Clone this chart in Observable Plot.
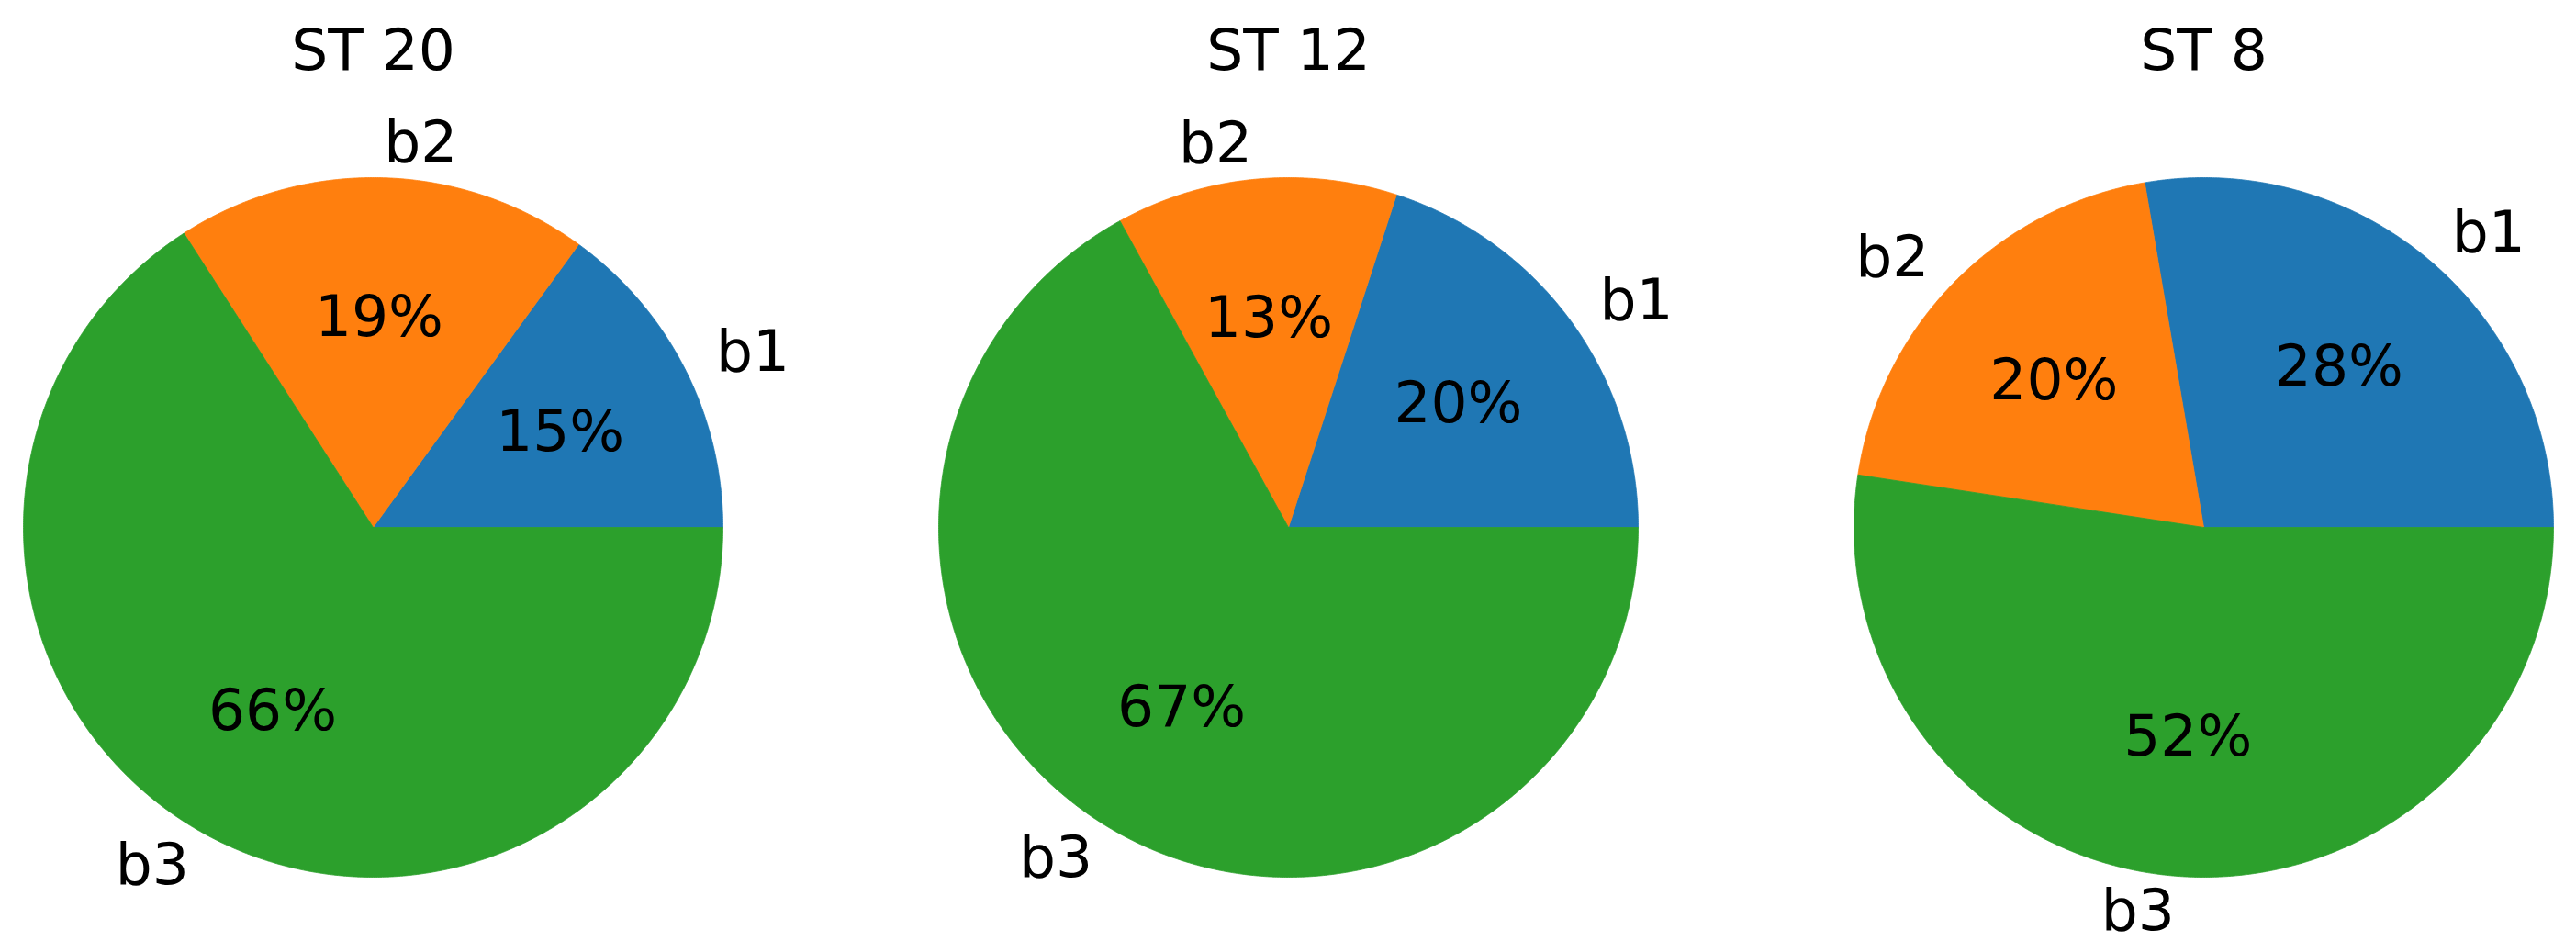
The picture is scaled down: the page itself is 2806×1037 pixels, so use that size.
<!DOCTYPE html>
<html>
<head>
<meta charset="utf-8">
<script src="https://cdn.jsdelivr.net/npm/d3@7"></script>
<script src="https://cdn.jsdelivr.net/npm/@observablehq/plot@0.6"></script>
<style>
  html, body { margin: 0; padding: 0; background: #fff; }
  svg { display: block; }
</style>
</head>
<body>
<div id="chart"></div>
<script>
// ---- data ----
const titles = ["ST 20", "ST 12", "ST 8"];
const labels = ["b1", "b2", "b3"];
const st20 = [15.0, 19.1, 65.9];
const st12 = [20.0, 13.0, 67.0];
const st8  = [27.7, 19.9, 52.4];
const colors = ["#1f77b4", "#ff7f0e", "#2ca02c"];

// ---- layout ----
const W = 2806, H = 1037;
const R = 381;          // pie radius in px (1 data unit)
const cx0 = 406;        // first pie centre px
const cy = 574;         // pie centre y px
const gap = 997;        // distance between pie centres px
const fontSize = 63;

const series = [st20, st12, st8];
const poly = [];
const outer = [];
const inner = [];
const heads = [];

series.forEach((vals, i) => {
  const cxu = i * gap / R;
  const tot = d3.sum(vals);
  heads.push({x: cxu, y: (cy - 55) / R, t: titles[i]});
  let a0 = 0;
  vals.forEach((v, j) => {
    const a1 = a0 + v / tot * 2 * Math.PI;
    const id = i + "-" + j;
    poly.push({id, cat: labels[j], x: cxu, y: 0});
    const n = Math.max(2, Math.ceil((a1 - a0) / (Math.PI / 720)));
    for (let k = 0; k <= n; k++) {
      const a = a0 + (a1 - a0) * k / n;
      poly.push({id, cat: labels[j], x: cxu + Math.cos(a), y: Math.sin(a)});
    }
    poly.push({id, cat: labels[j], x: cxu, y: 0});
    const mid = (a0 + a1) / 2;
    const lx = 1.1 * Math.cos(mid), ly = 1.1 * Math.sin(mid);
    outer.push({x: cxu + lx, y: ly, t: labels[j], side: lx > 0 ? "start" : "end"});
    inner.push({x: cxu + 0.6 * Math.cos(mid), y: 0.6 * Math.sin(mid), t: Math.round(v / tot * 100) + "%"});
    a0 = a1;
  });
});

const font = {fontSize, fontFamily: "DejaVu Sans", fill: "black"};

const chart = Plot.plot({
  width: W,
  height: H,
  margin: 0,
  x: {domain: [-cx0 / R, (W - cx0) / R], axis: null},
  y: {domain: [-(H - cy) / R, cy / R], axis: null},
  color: {domain: labels, range: colors},
  marks: [
    Plot.line(poly, {x: "x", y: "y", z: "id", fill: "cat", stroke: "cat", strokeWidth: 0.8, curve: "linear"}),
    Plot.text(inner, {x: "x", y: "y", text: "t", textAnchor: "middle", ...font}),
    Plot.text(outer.filter(d => d.side === "start"), {x: "x", y: "y", text: "t", textAnchor: "start", ...font}),
    Plot.text(outer.filter(d => d.side === "end"), {x: "x", y: "y", text: "t", textAnchor: "end", ...font}),
    Plot.text(heads, {x: "x", y: "y", text: "t", textAnchor: "middle", ...font})
  ]
});
document.getElementById("chart").appendChild(chart);
</script>
</body>
</html>
